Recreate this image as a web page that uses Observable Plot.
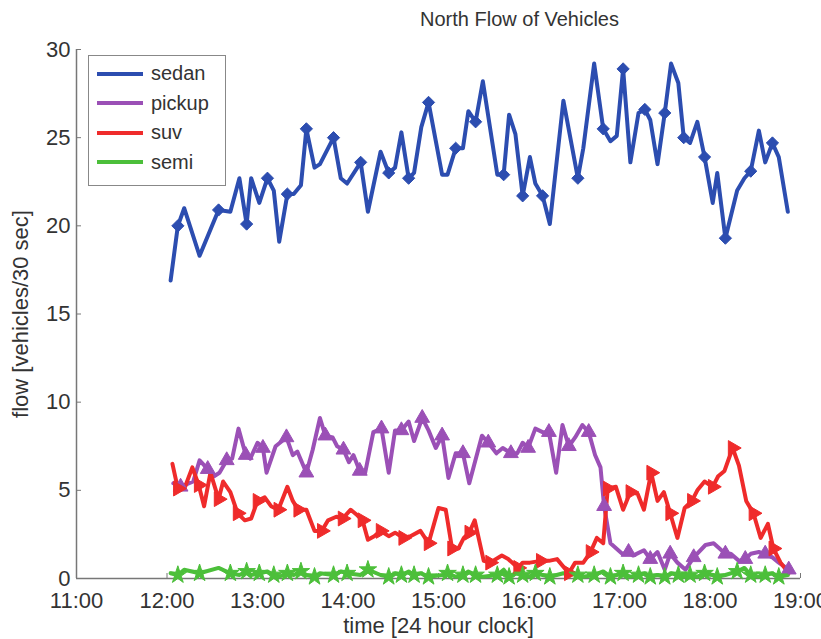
<!DOCTYPE html>
<html>
<head>
<meta charset="utf-8">
<script src="https://cdn.jsdelivr.net/npm/d3@7"></script>
<script src="https://cdn.jsdelivr.net/npm/@observablehq/plot@0.6"></script>
<style>
  body { margin: 0; background: #fff; font-family: "Liberation Sans", Arial, sans-serif; }
  #wrap { position: relative; width: 821px; height: 639px; }
  #legend { position: absolute; left: 88px; top: 55px; width: 138px; height: 131px; border: 1.5px solid #888; background: #fff; box-sizing: border-box; }
  .row { position: absolute; left: 0; height: 29px; display: flex; align-items: center; }
  .sw { width: 46px; height: 4px; margin-left: 8px; margin-right: 8px; }
  .lab { font-size: 20px; color: #333; }
</style>
</head>
<body>
<div id="wrap"></div>
<script>
// ---- data ----
const title = "North Flow of Vehicles";
const seriesNames = ["sedan", "pickup", "suv", "semi"];
const seriesColors = ["#2c4db0", "#9b50b6", "#ef2b2b", "#4cbf3a"];
const xTicks = [11, 12, 13, 14, 15, 16, 17, 18, 19];
const yTicks = [0, 5, 10, 15, 20, 25, 30];

const sedanTime = [12.04,12.12,12.19,12.36,12.57,12.70,12.80,12.88,12.93,13.02,13.11,13.18,13.24,13.33,13.40,13.48,13.54,13.63,13.69,13.84,13.92,13.99,14.14,14.22,14.36,14.45,14.52,14.59,14.67,14.73,14.81,14.89,15.04,15.10,15.19,15.27,15.33,15.41,15.49,15.65,15.72,15.78,15.85,15.93,16.01,16.07,16.15,16.23,16.38,16.54,16.60,16.72,16.82,16.90,16.97,17.04,17.12,17.21,17.28,17.34,17.42,17.50,17.57,17.65,17.71,17.78,17.86,17.94,18.03,18.08,18.17,18.30,18.38,18.45,18.54,18.61,18.69,18.76,18.86];
const sedan = [16.9,20.0,21.0,18.3,20.9,20.8,22.7,20.1,22.7,21.3,22.7,22.0,19.1,21.8,21.8,22.3,25.5,23.3,23.5,25.0,22.7,22.4,23.6,20.8,24.2,23.0,23.3,25.3,22.7,23.0,25.6,27.0,22.9,22.9,24.4,24.4,26.5,25.9,28.2,22.9,22.9,26.3,25.2,21.7,23.9,22.4,21.7,20.1,27.1,22.7,24.4,29.2,25.5,24.8,25.1,28.9,23.6,26.4,26.6,26.0,23.5,26.4,29.2,28.1,25.0,24.7,25.9,23.9,21.3,23.0,19.3,22.0,22.7,23.1,25.4,23.6,24.7,23.9,20.8];

const pickupTime = [12.07,12.15,12.29,12.36,12.45,12.52,12.58,12.66,12.72,12.79,12.87,12.92,13.00,13.06,13.10,13.20,13.32,13.39,13.44,13.54,13.61,13.69,13.75,13.83,13.88,13.95,14.01,14.06,14.13,14.19,14.28,14.37,14.45,14.52,14.59,14.67,14.73,14.82,14.89,14.97,15.04,15.11,15.19,15.27,15.34,15.48,15.55,15.64,15.71,15.80,15.87,15.93,15.99,16.07,16.15,16.22,16.30,16.37,16.44,16.51,16.59,16.66,16.73,16.79,16.83,16.90,17.03,17.10,17.15,17.27,17.34,17.42,17.50,17.56,17.64,17.73,17.82,17.95,18.04,18.17,18.23,18.32,18.39,18.45,18.54,18.61,18.69,18.76,18.87];
const pickup = [5.4,5.2,5.5,6.7,6.2,5.8,6.0,6.7,6.8,8.5,7.0,6.8,7.7,7.4,6.0,7.5,8.0,7.0,7.2,6.0,7.3,9.1,8.1,8.0,7.5,7.3,6.6,7.0,6.1,6.0,8.3,8.5,6.0,8.4,8.4,8.9,7.8,9.1,8.4,7.4,8.1,5.7,7.1,7.1,5.4,8.1,7.7,7.1,7.4,7.1,7.1,7.7,7.4,8.5,8.3,8.3,6.0,8.7,7.5,8.0,8.7,8.3,7.0,6.3,4.1,2.0,1.4,1.5,1.3,1.6,1.1,1.5,0.5,1.4,0.9,0.5,1.2,1.9,2.0,1.4,1.4,1.0,1.1,1.4,1.5,1.4,1.2,0.9,0.5];

const suvTime = [12.06,12.12,12.20,12.28,12.35,12.41,12.48,12.57,12.62,12.70,12.78,12.86,12.93,13.00,13.08,13.15,13.23,13.33,13.39,13.45,13.54,13.63,13.71,13.78,13.87,13.94,14.03,14.10,14.16,14.22,14.29,14.36,14.45,14.52,14.61,14.69,14.80,14.89,15.00,15.08,15.15,15.22,15.28,15.34,15.40,15.50,15.57,15.70,15.77,15.88,15.93,16.01,16.13,16.22,16.31,16.44,16.51,16.60,16.68,16.75,16.82,16.87,16.96,17.04,17.12,17.20,17.27,17.35,17.42,17.49,17.56,17.64,17.72,17.80,17.86,17.94,18.03,18.09,18.16,18.25,18.32,18.40,18.48,18.56,18.64,18.70,18.78,18.87];
const suv = [6.5,5.1,5.2,6.3,5.3,4.1,6.0,4.5,5.5,4.9,3.7,3.3,3.4,4.4,4.6,4.1,3.9,5.2,4.4,3.9,3.9,2.7,2.7,3.3,3.5,3.4,3.9,3.6,3.3,2.2,2.4,2.7,2.4,2.6,2.3,2.4,2.7,2.0,4.0,3.9,1.7,1.7,2.3,2.6,3.3,1.0,0.9,1.3,1.1,0.6,0.9,0.9,1.0,1.0,1.1,0.3,0.9,0.9,1.5,2.3,2.0,5.1,5.2,3.9,4.9,4.8,3.9,6.0,4.4,4.9,3.7,2.3,4.0,4.4,5.0,5.5,5.2,5.8,6.1,7.4,6.4,4.4,3.7,2.3,3.1,1.7,0.9,0.3];

const semiTime = sedanTime;
const semi = [0.3,0.2,0.5,0.3,0.6,0.3,0.2,0.4,0.2,0.3,0.4,0.2,0.1,0.3,0.2,0.4,0.2,0.1,0.3,0.2,0.4,0.3,0.2,0.5,0.2,0.1,0.3,0.2,0.4,0.2,0.3,0.1,0.2,0.3,0.1,0.2,0.4,0.2,0.1,0.2,0.5,0.1,0.3,0.2,0.1,0.3,0.2,0.1,0.3,0.2,0.1,0.2,0.4,0.1,0.2,0.3,0.1,0.2,0.3,0.1,0.2,0.1,0.3,0.2,0.1,0.2,0.1,0.3,0.2,0.1,0.2,0.4,0.6,0.2,0.1,0.2,0.3,0.1,0.2];

// ---- build table ----
const series = [
  {name: "sedan", t: sedanTime, v: sedan, symbol: "diamond2", rotate: 0, every: 3},
  {name: "pickup", t: pickupTime, v: pickup, symbol: "triangle", rotate: 0, every: 3},
  {name: "suv", t: suvTime, v: suv, symbol: "triangle", rotate: 90, every: 3},
  {name: "semi", t: semiTime, v: semi, symbol: "star", rotate: 0, every: 2}
];
const colorOf = Object.fromEntries(seriesNames.map((n, i) => [n, seriesColors[i]]));
const rows = [];
for (const s of series) {
  const n = Math.min(s.t.length, s.v.length);
  for (let i = 0; i < n; i++) rows.push({series: s.name, time: s.t[i], flow: s.v[i], i, symbol: s.symbol, rotate: s.rotate, marker: i % s.every === 1});
}
const markerRows = rows.filter(d => d.marker);

const font = "Liberation Sans, Arial, sans-serif";
const chart = Plot.plot({
  width: 821,
  height: 639,
  marginLeft: 76,
  marginRight: 21,
  marginTop: 49,
  marginBottom: 61,
  style: {fontFamily: font, background: "#fff", color: "#333"},
  x: {domain: [11, 19]},
  y: {domain: [0, 30]},
  marks: [
    Plot.ruleX([11], {stroke: "#777", strokeWidth: 1.5}),
    Plot.ruleY([0], {stroke: "#777", strokeWidth: 1.5}),
    Plot.axisX({ticks: xTicks, tickFormat: d => `${d}:00`, tickSize: -5, tickPadding: 19, fontSize: 22, stroke: "#777", label: "time [24 hour clock]", labelAnchor: "center", labelOffset: 54, labelArrow: "none"}),
    Plot.axisY({ticks: yTicks, tickSize: -5, tickPadding: 11, fontSize: 22, stroke: "#777", label: "flow [vehicles/30 sec]", labelAnchor: "center", labelOffset: 64, labelArrow: "none"}),
    ...seriesNames.map(name => Plot.line(rows.filter(d => d.series === name), {x: "time", y: "flow", stroke: colorOf[name], strokeWidth: 4, strokeLinejoin: "round"})),
    ...seriesNames.map(name => Plot.dot(markerRows.filter(d => d.series === name), {x: "time", y: "flow", symbol: d => d.symbol, rotate: "rotate", fill: colorOf[name], stroke: colorOf[name], strokeWidth: 1, r: 5.5})),
    Plot.text([title], {text: d => d, frameAnchor: "top", dx: 81, dy: -38, fontSize: 20, fill: "#333"})
  ]
});
chart.querySelectorAll("g[aria-label='x-axis label'] text, g[aria-label='y-axis label'] text").forEach(t => t.setAttribute("font-size", "22"));
const wrap = document.getElementById("wrap");
wrap.appendChild(chart);

// legend
const legend = document.createElement("div");
legend.id = "legend";
seriesNames.forEach((n, i) => {
  const row = document.createElement("div");
  row.className = "row";
  row.style.top = (3 + i * 29.5) + "px";
  const sw = document.createElement("div");
  sw.className = "sw";
  sw.style.background = seriesColors[i];
  const lab = document.createElement("span");
  lab.className = "lab";
  lab.textContent = n;
  row.appendChild(sw); row.appendChild(lab);
  legend.appendChild(row);
});
wrap.appendChild(legend);
</script>
</body>
</html>
